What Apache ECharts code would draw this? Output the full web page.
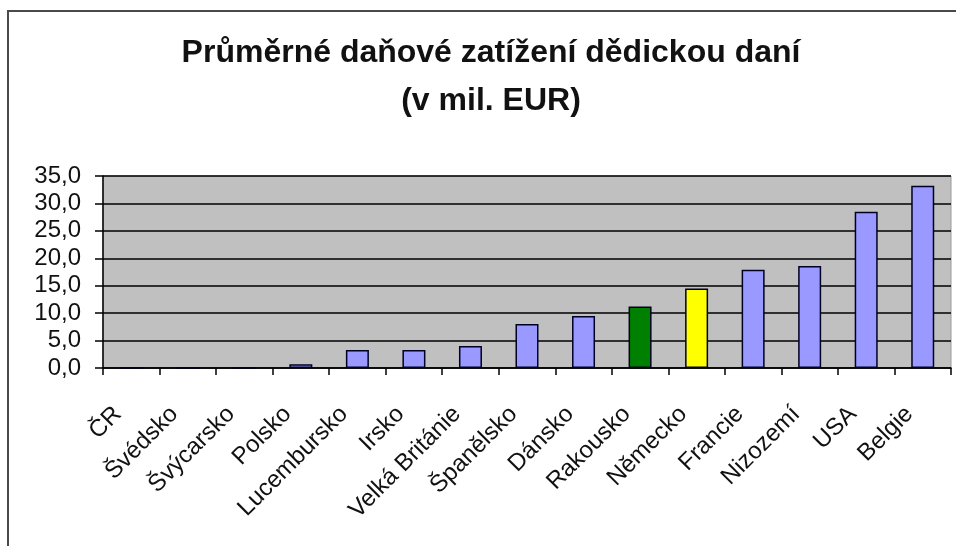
<!DOCTYPE html>
<html>
<head>
<meta charset="utf-8">
<script src="https://cdn.jsdelivr.net/npm/echarts@6/dist/echarts.min.js"></script>
<style>
  html, body { margin: 0; padding: 0; background: #ffffff; }
  #chart { width: 956px; height: 546px; }
</style>
</head>
<body>
<div id="chart"></div>
<script>
// Average inheritance tax burden by country (million EUR)
const titleLines = ['Průměrné daňové zatížení dědickou daní', '(v mil. EUR)'];
const countries = ['ČR', 'Švédsko', 'Švýcarsko', 'Polsko', 'Lucembursko', 'Irsko',
  'Velká Británie', 'Španělsko', 'Dánsko', 'Rakousko', 'Německo', 'Francie',
  'Nizozemí', 'USA', 'Belgie'];
const taxValues = [0, 0, 0, 0.7, 3.3, 3.3, 4.0, 8.0, 9.5, 11.2, 14.5, 17.9, 18.6, 28.5, 33.2];
const yTicks = [0, 5, 10, 15, 20, 25, 30, 35];

// Highlighted countries
const highlight = { 'Rakousko': '#008000', 'Německo': '#FFFF00' };
const baseColor = '#9999FF';

const FONT = 'Arial, "Liberation Sans", sans-serif';

const chart = echarts.init(document.getElementById('chart'), null, { renderer: 'canvas' });

const barData = countries.map((c, i) => ({
  value: taxValues[i],
  itemStyle: { color: highlight[c] || baseColor }
}));

chart.setOption({
  animation: false,
  backgroundColor: '#ffffff',
  graphic: [{
    type: 'rect',
    silent: true,
    shape: { x: 8, y: 11, width: 980, height: 600 },
    style: { fill: 'none', stroke: '#4a4a4a', lineWidth: 2 }
  }],
  title: {
    text: titleLines.join('\n'),
    left: 486,
    textAlign: 'center',
    top: 24,
    textStyle: {
      fontFamily: FONT,
      fontSize: 32,
      fontWeight: 'bold',
      color: '#111111',
      lineHeight: 48
    }
  },
  grid: {
    left: 103,
    right: 5,
    top: 176,
    bottom: 178,
    show: true,
    backgroundColor: '#C0C0C0',
    borderColor: '#9a9a9a',
    borderWidth: 1
  },
  xAxis: {
    type: 'category',
    data: countries,
    boundaryGap: true,
    axisLine: { show: true, lineStyle: { color: '#000', width: 1.5 } },
    axisTick: { show: true, length: 7, inside: false, lineStyle: { color: '#000', width: 1.5 } },
    axisLabel: {
      interval: 0,
      rotate: 45,
      margin: 29,
      padding: [0, 19, 0, 0],
      fontFamily: FONT,
      fontSize: 24,
      color: '#111111'
    },
    splitLine: { show: false }
  },
  yAxis: {
    type: 'value',
    min: yTicks[0],
    max: yTicks[yTicks.length - 1],
    interval: yTicks[1] - yTicks[0],
    axisLine: { show: true, lineStyle: { color: '#000', width: 1.5 } },
    axisTick: { show: true, length: 8, lineStyle: { color: '#000', width: 1.5 } },
    axisLabel: {
      margin: 22,
      fontFamily: FONT,
      fontSize: 24,
      color: '#111111',
      formatter: v => v.toFixed(1).replace('.', ',')
    },
    splitLine: { show: true, lineStyle: { color: '#000', width: 1.5 } }
  },
  series: [{
    type: 'bar',
    data: barData,
    barWidth: 23,
    itemStyle: { borderColor: '#000022', borderWidth: 1.5 }
  }]
});
</script>
</body>
</html>
